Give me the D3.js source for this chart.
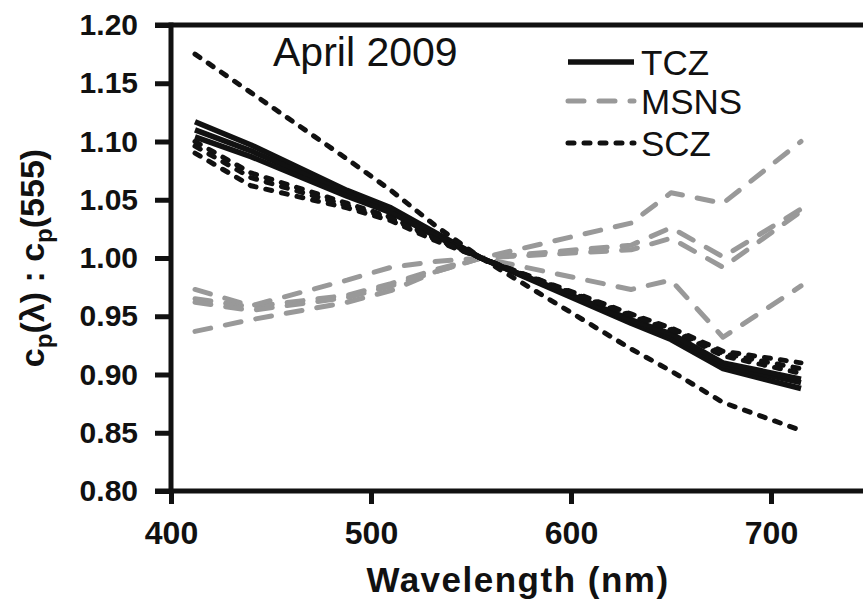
<!DOCTYPE html>
<html>
<head>
<meta charset="utf-8">
<script src="https://cdn.jsdelivr.net/npm/d3@7/dist/d3.min.js"></script>
<style>
  html, body { margin: 0; padding: 0; background: #fff; }
  svg { display: block; }
  text { font-family: "Liberation Sans", Arial, sans-serif; }
</style>
</head>
<body>
<svg id="chart" width="863" height="600"></svg>
<script>
// ---- data ----
const wavelengths = [412, 440, 488, 510, 532, 555, 630, 650, 676, 715];
const tczSeries = [
  [1.117, 1.097, 1.058, 1.043, 1.022, 1.000, 0.944, 0.930, 0.905, 0.888],
  [1.110, 1.092, 1.056, 1.041, 1.021, 1.000, 0.946, 0.933, 0.908, 0.893],
  [1.104, 1.087, 1.053, 1.039, 1.019, 1.000, 0.947, 0.935, 0.910, 0.896]
];
const msnsSeries = [
  [0.937, 0.947, 0.962, 0.972, 0.988, 1.000, 1.030, 1.056, 1.047, 1.100],
  [0.965, 0.958, 0.968, 0.978, 0.990, 1.000, 1.011, 1.026, 1.001, 1.042],
  [0.962, 0.955, 0.966, 0.976, 0.988, 1.000, 1.007, 1.017, 0.992, 1.040],
  [0.973, 0.959, 0.981, 0.992, 0.997, 1.000, 0.973, 0.981, 0.932, 0.976]
];
const sczSeries = [
  [1.175, 1.142, 1.085, 1.058, 1.028, 1.000, 0.922, 0.903, 0.876, 0.852],
  [1.090, 1.062, 1.043, 1.032, 1.015, 1.000, 0.952, 0.940, 0.920, 0.910],
  [1.100, 1.073, 1.047, 1.035, 1.017, 1.000, 0.950, 0.938, 0.916, 0.901],
  [1.096, 1.069, 1.045, 1.034, 1.016, 1.000, 0.951, 0.939, 0.918, 0.905]
];
const xTicks = [400, 500, 600, 700];
const yTicks = [0.80, 0.85, 0.90, 0.95, 1.00, 1.05, 1.10, 1.15, 1.20];
const legendLabels = ["TCZ", "MSNS", "SCZ"];
const panelLabel = "April 2009";

// ---- layout ----
const svg = d3.select("#chart");
const mLeft = 171, mRight = 771, mTop = 25, mBottom = 491;
const x = d3.scaleLinear().domain([400, 700]).range([mLeft, mRight]);
const y = d3.scaleLinear().domain([0.80, 1.20]).range([mBottom, mTop]);

const styles = {
  tcz: { stroke: "#111", width: 5.5, dash: null, cap: "butt" },
  msns: { stroke: "#999", width: 5, dash: "16,15", cap: "round" },
  scz: { stroke: "#111", width: 5, dash: "6,10", cap: "round" }
};

const line = d3.line().x((d, i) => x(wavelengths[i])).y(d => y(d));

function drawSeries(series, st) {
  svg.append("g").selectAll("path").data(series).join("path")
    .attr("d", line)
    .attr("fill", "none")
    .attr("stroke", st.stroke)
    .attr("stroke-width", st.width)
    .attr("stroke-linecap", st.cap)
    .attr("stroke-linejoin", "round")
    .attr("stroke-dasharray", st.dash);
}
drawSeries(msnsSeries, styles.msns);
drawSeries(tczSeries, styles.tcz);
drawSeries(sczSeries, styles.scz);

// ---- axes ----
const yAxis = d3.axisLeft(y).tickValues(yTicks).tickFormat(d3.format(".2f"))
  .tickSize(16).tickSizeOuter(0).tickPadding(17);
const gy = svg.append("g").attr("transform", `translate(${mLeft},0)`).call(yAxis);
gy.select(".domain").remove();
gy.selectAll(".tick line").attr("stroke", "#111").attr("stroke-width", 5);
gy.selectAll(".tick text").attr("fill", "#111").attr("font-size", 30).attr("font-weight", "bold");

const xAxis = d3.axisBottom(x).tickValues(xTicks).tickFormat(d3.format("d"))
  .tickSize(13).tickSizeOuter(0).tickPadding(17);
const gx = svg.append("g").attr("transform", `translate(0,${mBottom})`).call(xAxis);
gx.select(".domain").remove();
gx.selectAll(".tick line").attr("stroke", "#111").attr("stroke-width", 5);
gx.selectAll(".tick text").attr("fill", "#111").attr("font-size", 32).attr("font-weight", "bold");

// frame lines
const frame = svg.append("g").attr("stroke", "#111").attr("stroke-width", 5);
frame.append("line").attr("x1", mLeft).attr("x2", mLeft).attr("y1", mTop - 2.5).attr("y2", mBottom + 2.5);
frame.append("line").attr("x1", mLeft - 16).attr("x2", 863).attr("y1", mTop).attr("y2", mTop);
frame.append("line").attr("x1", mLeft - 16).attr("x2", 863).attr("y1", mBottom).attr("y2", mBottom);

// axis titles
svg.append("text")
  .attr("x", 518).attr("y", 592)
  .attr("text-anchor", "middle")
  .attr("font-size", 35).attr("font-weight", "bold").attr("letter-spacing", 1.5)
  .attr("fill", "#111")
  .text("Wavelength (nm)");

const yt = svg.append("text")
  .attr("transform", "translate(44,258) rotate(-90)")
  .attr("text-anchor", "middle")
  .attr("font-size", 34).attr("font-weight", "bold")
  .attr("fill", "#111");
yt.append("tspan").text("c");
yt.append("tspan").attr("font-size", 24).attr("dy", 8).text("p");
yt.append("tspan").attr("dy", -8).text("(λ) : c");
yt.append("tspan").attr("font-size", 24).attr("dy", 8).text("p");
yt.append("tspan").attr("dy", -8).text("(555)");

// panel label
svg.append("text")
  .attr("x", 273).attr("y", 66)
  .attr("font-size", 41).attr("fill", "#111")
  .text(panelLabel);

// legend
const legendStyles = [styles.tcz, styles.msns, styles.scz];
const legendY = [62, 101, 143];
const lg = svg.append("g");
legendLabels.forEach((lab, i) => {
  const st = legendStyles[i];
  lg.append("line")
    .attr("x1", 568).attr("x2", 634)
    .attr("y1", legendY[i]).attr("y2", legendY[i])
    .attr("stroke", st.stroke).attr("stroke-width", st.width)
    .attr("stroke-linecap", st.cap)
    .attr("stroke-dasharray", st.dash);
  lg.append("text")
    .attr("x", 641).attr("y", legendY[i])
    .attr("dy", "0.36em")
    .attr("font-size", 35).attr("fill", "#111")
    .text(lab);
});
</script>
</body>
</html>
